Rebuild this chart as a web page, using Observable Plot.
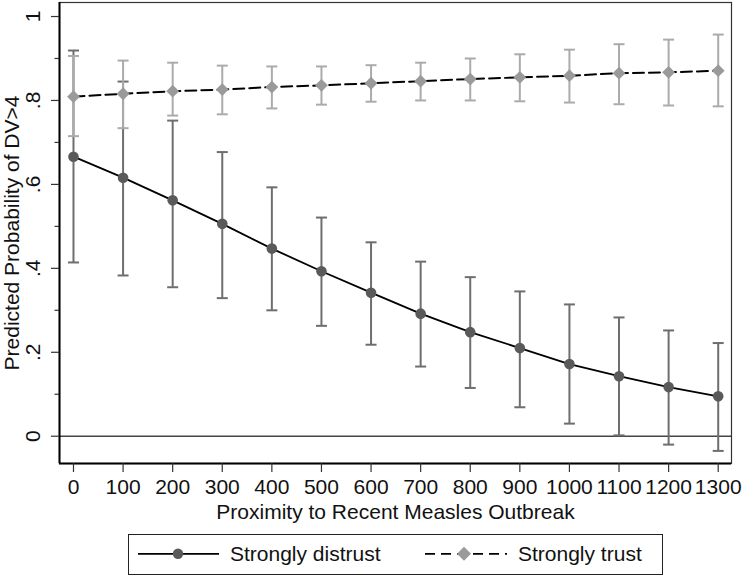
<!DOCTYPE html>
<html>
<head>
<meta charset="utf-8">
<script src="https://cdn.jsdelivr.net/npm/d3@7"></script>
<script src="https://cdn.jsdelivr.net/npm/@observablehq/plot@0.6"></script>
<style>
  body { margin: 0; background: white; }
  #wrap { position: relative; width: 743px; height: 577px; font-family: "Liberation Sans", Arial, Helvetica, sans-serif; }
  #legend { position: absolute; left: 128px; top: 534px; width: 535px; height: 41px; box-sizing: border-box; border: 1.5px solid #222; }
</style>
</head>
<body>
<div id="wrap"><div id="chart"></div><div id="legend"></div></div>
<script>
const xs = [0,100,200,300,400,500,600,700,800,900,1000,1100,1200,1300];
const distrustP  = [0.666,0.616,0.562,0.506,0.447,0.393,0.342,0.292,0.248,0.210,0.172,0.143,0.117,0.095];
const distrustLo = [0.414,0.383,0.355,0.329,0.300,0.263,0.218,0.166,0.115,0.069,0.030,0.002,-0.020,-0.035];
const distrustHi = [0.919,0.845,0.752,0.677,0.593,0.521,0.462,0.416,0.379,0.345,0.314,0.283,0.252,0.222];
const trustP  = [0.809,0.816,0.822,0.826,0.832,0.836,0.841,0.846,0.851,0.855,0.859,0.865,0.867,0.871];
const trustLo = [0.715,0.734,0.764,0.767,0.781,0.790,0.797,0.800,0.800,0.798,0.795,0.791,0.788,0.786];
const trustHi = [0.906,0.895,0.890,0.883,0.881,0.881,0.884,0.890,0.900,0.910,0.921,0.934,0.945,0.957];
const yTicks = [0,0.2,0.4,0.6,0.8,1];
const yMinor = [0.1,0.3,0.5,0.7,0.9];
const yTickLabels = ["0",".2",".4",".6",".8","1"];
const xLabel = "Proximity to Recent Measles Outbreak";
const yLabel = "Predicted Probability of DV>4";
const seriesNames = ["Strongly distrust","Strongly trust"];
const xDomain = [-28.2, 1326.8];
const yDomain = [-0.065, 1.0334];

const distrust = xs.map((x,i)=>({x, p:distrustP[i], lo:distrustLo[i], hi:distrustHi[i]}));
const trust = xs.map((x,i)=>({x, p:trustP[i], lo:trustLo[i], hi:trustHi[i]}));

const cap = {draw(ctx, size){ const r = Math.sqrt(size/Math.PI); ctx.moveTo(-r,0); ctx.lineTo(r,0); }};
const diamond = {draw(ctx, size){ const r = Math.sqrt(size/Math.PI); ctx.moveTo(0,-r); ctx.lineTo(r,0); ctx.lineTo(0,r); ctx.lineTo(-r,0); ctx.closePath(); }};

const cD = "#5a5a5a", ciD = "#6e6e6e", cT = "#9a9a9a", ciT = "#ababab";
const font = "'Liberation Sans', Arial, Helvetica, sans-serif";

const chart = Plot.plot({
  width: 743, height: 528,
  marginLeft: 59, marginRight: 12, marginTop: 2, marginBottom: 65,
  style: {fontFamily: font, fontSize: "21px", background: "white", color: "#111"},
  x: {domain: xDomain},
  y: {domain: yDomain},
  marks: [
    Plot.ruleY([0], {stroke: "#444", strokeWidth: 1.6}),
    Plot.ruleX(distrust, {x: "x", y1: "lo", y2: "hi", stroke: ciD, strokeWidth: 2}),
    Plot.dot(distrust, {x: "x", y: "lo", symbol: cap, r: 5.5, stroke: ciD, strokeWidth: 2}),
    Plot.dot(distrust, {x: "x", y: "hi", symbol: cap, r: 5.5, stroke: ciD, strokeWidth: 2}),
    Plot.ruleX(trust, {x: "x", y1: "lo", y2: "hi", stroke: ciT, strokeWidth: 2}),
    Plot.dot(trust, {x: "x", y: "lo", symbol: cap, r: 5.5, stroke: ciT, strokeWidth: 2}),
    Plot.dot(trust, {x: "x", y: "hi", symbol: cap, r: 5.5, stroke: ciT, strokeWidth: 2}),
    Plot.line(distrust, {x: "x", y: "p", stroke: "#000", strokeWidth: 1.8}),
    Plot.line(trust, {x: "x", y: "p", stroke: "#000", strokeWidth: 2, strokeDasharray: "11,5"}),
    Plot.dot(distrust, {x: "x", y: "p", r: 5.3, fill: cD, symbol: "circle"}),
    Plot.dot(trust, {x: "x", y: "p", r: 6.4, fill: cT, symbol: diamond}),
    Plot.frame({stroke: "#333", strokeWidth: 1.2}),
    Plot.ruleX([xDomain[0]], {stroke: "#000", strokeWidth: 2}),
    Plot.ruleY([yDomain[0]], {stroke: "#000", strokeWidth: 2}),
    Plot.axisY({ticks: yTicks, tickSize: 8, tickFormat: () => "", label: null, stroke: "#333", strokeWidth: 1.2}),
    Plot.axisY({ticks: yMinor, tickSize: 4.5, tickFormat: () => "", label: null, stroke: "#333", strokeWidth: 1.2}),
    Plot.text(yTicks, {y: d => d, text: (d,i) => yTickLabels[i], frameAnchor: "left", dx: -26, rotate: -90, textAnchor: "middle", lineAnchor: "middle", fontSize: 21, fill: "#111"}),
    Plot.axisX({ticks: xs, tickSize: 9, tickFormat: () => "", label: null, stroke: "#333", strokeWidth: 1.2}),
    Plot.text(xs, {x: d => d, text: d => String(d), frameAnchor: "bottom", dy: 24, lineAnchor: "middle", fontSize: 21, fill: "#111"}),
    Plot.text([xLabel], {frameAnchor: "bottom", dy: 49, textAnchor: "middle", lineAnchor: "middle", fontSize: 21, fill: "#111"}),
    Plot.text([yLabel], {frameAnchor: "left", dx: -47, rotate: -90, textAnchor: "middle", lineAnchor: "middle", fontSize: 21, fill: "#111"})
  ]
});
document.getElementById("chart").appendChild(chart);

// Legend
const ns = "http://www.w3.org/2000/svg";
const lg = document.createElementNS(ns, "svg");
lg.setAttribute("width", 532); lg.setAttribute("height", 38);
lg.style.display = "block";
const cy = 18.8;
lg.innerHTML = `
  <line x1="9" x2="90" y1="${cy}" y2="${cy}" stroke="#000" stroke-width="1.8"/>
  <circle cx="49" cy="${cy}" r="5.2" fill="${cD}"/>
  <text x="101" y="${cy}" dy="0.36em" font-size="21" font-family="${font}" fill="#111">${seriesNames[0]}</text>
  <line x1="296" x2="378" y1="${cy}" y2="${cy}" stroke="#000" stroke-width="1.8" stroke-dasharray="10,6"/>
  <path d="M335,${cy-7} L342,${cy} L335,${cy+7} L328,${cy} Z" fill="${cT}"/>
  <text x="389" y="${cy}" dy="0.36em" font-size="21" font-family="${font}" fill="#111">${seriesNames[1]}</text>
`;
document.getElementById("legend").appendChild(lg);
</script>
</body>
</html>
